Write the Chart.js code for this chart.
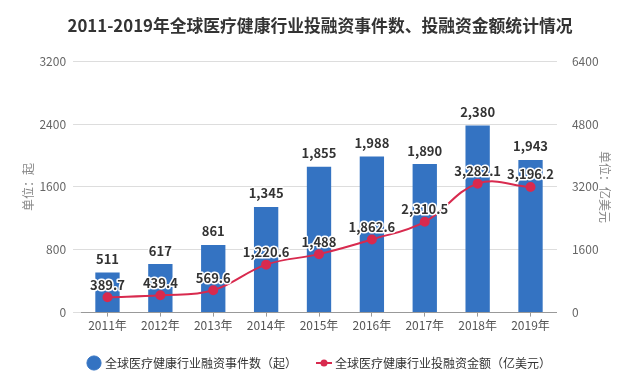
<!DOCTYPE html>
<html>
<head>
<meta charset="utf-8">
<script src="https://cdn.jsdelivr.net/npm/chart.js@4/dist/chart.umd.min.js"></script>
<style>
  html, body { margin: 0; padding: 0; background: #fff; }
  #wrap { width: 634px; height: 373px; }
</style>
</head>
<body>
<div id="wrap"><canvas id="chart"></canvas></div>
<script>
//*** DATA ***//
const years = ['2011年', '2012年', '2013年', '2014年', '2015年', '2016年', '2017年', '2018年', '2019年'];
const dealCounts = [511, 617, 861, 1345, 1855, 1988, 1890, 2380, 1943];
const dealAmounts = [389.7, 439.4, 569.6, 1220.6, 1488, 1862.6, 2310.5, 3282.1, 3196.2];
const leftTicks = [0, 800, 1600, 2400, 3200];
const rightTicks = [0, 1600, 3200, 4800, 6400];

const FONT = '"Noto Sans CJK SC", "Noto Sans", sans-serif';
const BLUE = '#3473c2';
const RED = '#d82a4e';

//*** FUNCTIONS ***//
const fmt = (v) => v.toLocaleString('en-US', { maximumFractionDigits: 1 });

// small line+dot icon for the legend
const lineIcon = () => {
    const c = document.createElement('canvas');
    c.width = 18; c.height = 12;
    const x = c.getContext('2d');
    x.strokeStyle = RED; x.lineWidth = 2;
    x.beginPath(); x.moveTo(1, 6); x.lineTo(17, 6); x.stroke();
    x.fillStyle = RED;
    x.beginPath(); x.arc(9, 6, 3.5, 0, Math.PI * 2); x.fill();
    return c;
};

// value labels drawn above bars and points
const valueLabels = {
    id: 'valueLabels',
    afterDatasetsDraw(chart) {
        const ctx = chart.ctx;
        ctx.save();
        ctx.textAlign = 'center';
        ctx.textBaseline = 'bottom';
        ctx.lineJoin = 'round';
        chart.data.datasets.forEach((ds, i) => {
            const meta = chart.getDatasetMeta(i);
            meta.data.forEach((el, j) => {
                const txt = fmt(ds.data[j]);
                const y = ds.type === 'bar' ? el.y - 7 : el.y - 6;
                ctx.font = 'bold 13px ' + FONT;
                ctx.lineWidth = 3;
                ctx.strokeStyle = '#fff';
                ctx.strokeText(txt, el.x, y);
                ctx.fillStyle = '#333';
                ctx.fillText(txt, el.x, y);
            });
        });
        ctx.restore();
    }
};

//*** CHART ***//
new Chart(document.getElementById('chart'), {
    data: {
        labels: years,
        datasets: [{
            type: 'line',
            label: '全球医疗健康行业投融资金额（亿美元）',
            data: dealAmounts,
            yAxisID: 'y2',
            borderColor: RED,
            backgroundColor: RED,
            borderWidth: 2,
            tension: 0.4,
            pointRadius: 4,
            pointBackgroundColor: RED,
            pointBorderColor: RED,
            order: 0
        }, {
            type: 'bar',
            label: '全球医疗健康行业融资事件数（起）',
            data: dealCounts,
            yAxisID: 'y',
            backgroundColor: BLUE,
            barPercentage: 0.46,
            categoryPercentage: 1,
            order: 1
        }]
    },
    options: {
        responsive: true,
        maintainAspectRatio: false,
        animation: false,
        layout: { padding: { left: 6, right: 0, top: 0, bottom: -6 } },
        plugins: {
            title: {
                display: true,
                text: '2011-2019年全球医疗健康行业投融资事件数、投融资金额统计情况',
                color: '#333',
                font: { family: FONT, size: 16.8, weight: 'bold' },
                padding: { top: 16, bottom: 25 }
            },
            legend: {
                position: 'bottom',
                reverse: true,
                labels: {
                    usePointStyle: true,
                    boxHeight: 10,
                    boxWidth: 10,
                    color: '#333',
                    font: { family: FONT, size: 12 },
                    padding: 22,
                    generateLabels(chart) {
                        return chart.data.datasets.map((ds, i) => ({
                            text: ds.label,
                            fillStyle: ds.type === 'bar' ? BLUE : RED,
                            strokeStyle: ds.type === 'bar' ? BLUE : RED,
                            pointStyle: ds.type === 'bar' ? 'circle' : lineIcon(),
                            fontColor: '#333',
                            datasetIndex: i,
                            hidden: false
                        }));
                    }
                }
            },
            tooltip: { enabled: false }
        },
        scales: {
            x: {
                grid: { display: true, drawOnChartArea: false, offset: false, tickLength: 4, tickColor: '#999' },
                border: { color: '#999' },
                ticks: { color: '#555', font: { family: FONT, size: 12 }, padding: 2 }
            },
            y: {
                position: 'left',
                min: 0, max: 3200,
                afterBuildTicks: (s) => { s.ticks = leftTicks.map(v => ({ value: v })); },
                grid: { color: '#ddd', tickLength: 8, tickColor: '#ddd' },
                border: { display: false },
                ticks: { color: '#666', font: { family: FONT, size: 12 }, padding: 7, callback: (v) => String(v) },
                title: { display: true, text: '单位：起', color: '#888', font: { family: FONT, size: 12 }, padding: { top: 15, bottom: -3 } }
            },
            y2: {
                position: 'right',
                min: 0, max: 6400,
                afterBuildTicks: (s) => { s.ticks = rightTicks.map(v => ({ value: v })); },
                grid: { display: false },
                border: { display: false },
                ticks: { color: '#666', font: { family: FONT, size: 12 }, padding: 7, callback: (v) => String(v) },
                title: { display: true, text: '单位：亿美元', color: '#888', font: { family: FONT, size: 12 }, padding: { top: 22, bottom: -8 } }
            }
        }
    },
    plugins: [valueLabels]
});
</script>
</body>
</html>
